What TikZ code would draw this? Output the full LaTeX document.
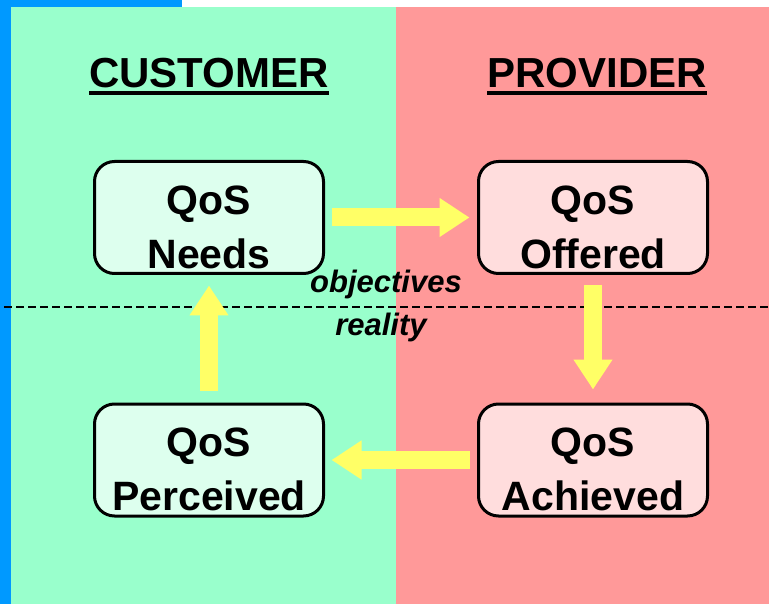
\documentclass[tikz,border=0pt]{standalone}
\usepackage{fontspec}
\setmainfont{Liberation Sans}
\usepackage{tikz}
\usetikzlibrary{arrows.meta}

\definecolor{custgreen}{HTML}{99FFCC}
\definecolor{provpink}{HTML}{FF9999}
\definecolor{custbox}{HTML}{DDFFEE}
\definecolor{provbox}{HTML}{FFDDDD}
\definecolor{sideblue}{HTML}{0099FF}
\definecolor{flowyellow}{HTML}{FFFF66}

\newcommand{\qoslines}[1]{\rule{0pt}{48pt}QoS\\#1}

\begin{document}
\begin{tikzpicture}[x=1pt,y=-1pt,
		qos/.style={draw,rounded corners=20pt,line width=3pt,
			minimum width=229pt,minimum height=112pt,align=center,
			font=\fontsize{41}{54}\selectfont\bfseries},
		heading/.style={inner sep=0pt,anchor=base,
			font=\fontsize{42}{50}\selectfont\bfseries},
		remark/.style={inner sep=0pt,anchor=base,
			font=\fontsize{31}{36}\selectfont\bfseries\itshape},
		flow/.style={draw=flowyellow,line width=18pt,
			-{Triangle[length=30pt,width=37pt]}}]
	\useasboundingbox (0,0) rectangle (769,604);
	% background
	\fill[sideblue] (0,0) rectangle (11,604);
	\fill[sideblue] (0,0) rectangle (182,7);
	\fill[custgreen] (11,7) rectangle (396,604);
	\fill[provpink] (396,7) rectangle (769,604);
	\draw[line width=1.5pt,dash pattern=on 8pt off 4pt] (4,307) -- (769,307);

	% headings
	\node[heading] (cust) at (209,88) {CUSTOMER};
	\node[heading] (prov) at (597,88) {PROVIDER};
	\draw[line width=4pt] ([yshift=-5pt]cust.base west) -- ([yshift=-5pt]cust.base east);
	\draw[line width=4pt] ([yshift=-5pt]prov.base west) -- ([yshift=-5pt]prov.base east);

	% the four boxes
	\node[qos,fill=custbox] (needs) at (209,217.5) {\qoslines{Needs}};
	\node[qos,fill=provbox] (offered) at (593,217.5) {\qoslines{Offered}};
	\node[qos,fill=provbox] (achieved) at (593,460) {\qoslines{Achieved}};
	\node[qos,fill=custbox] (perceived) at (209,460) {\qoslines{Perceived}};

	\node[remark] (obj) at (386,293) {objectives};
	\node[remark] (real) at (381,336) {reality};

	% flow
	\draw[flow,shorten <=6.5pt,shorten >=7.5pt] (needs) -- (offered);
	\draw[flow,shorten <=10pt,shorten >=13pt] (offered) -- (achieved);
	\draw[flow,shorten <=7.5pt,shorten >=6.5pt] (achieved) -- (perceived);
	\draw[flow,shorten <=11.5pt,shorten >=10.5pt] (perceived) -- (needs);
\end{tikzpicture}
\end{document}
